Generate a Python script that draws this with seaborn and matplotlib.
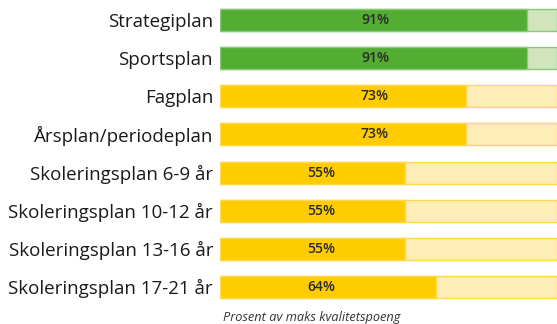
import matplotlib
matplotlib.use("Agg")
import matplotlib.pyplot as plt
import seaborn as sns
import pandas as pd

# Plan categories and their quality score (percent of maximum)
plans = [
    "Strategiplan",
    "Sportsplan",
    "Fagplan",
    "Årsplan/periodeplan",
    "Skoleringsplan 6-9 år",
    "Skoleringsplan 10-12 år",
    "Skoleringsplan 13-16 år",
    "Skoleringsplan 17-21 år",
]
scores = [91, 91, 73, 73, 55, 55, 55, 64]
score_labels = ["91%", "91%", "73%", "73%", "55%", "55%", "55%", "64%"]
groups = ["høy", "høy", "lav", "lav", "lav", "lav", "lav", "lav"]
max_score = [100] * len(plans)

# Where each percentage label sits along the bar
label_pos = [46, 46, 46, 46, 30, 30, 30, 30]

dark = {"høy": "#52ad32", "lav": "#ffcc00"}
light = {"høy": "#d1e4bd", "lav": "#ffedb8"}
edge = {"høy": "#8cc977", "lav": "#ffd84d"}

df = pd.DataFrame({"plan": plans, "score": scores, "maks": max_score, "gruppe": groups})

sns.set_theme(style="white")
plt.rcParams["font.family"] = ["Open Sans", "DejaVu Sans"]

fig = plt.figure(figsize=(5.57, 3.24), dpi=100)
ax = fig.add_axes([220 / 557, 1 - 306 / 324, 1 - 220 / 557, 305 / 324])

sns.barplot(data=df, x="maks", y="plan", hue="plan", legend=False,
            palette=[light[g] for g in groups], width=0.58, ax=ax,
            saturation=1, linewidth=0)
for p, g in zip(ax.patches, groups):
    p.set_edgecolor(edge[g])
    p.set_linewidth(1.0)
n_bg = len(ax.patches)
sns.barplot(data=df, x="score", y="plan", hue="plan", legend=False,
            palette=[dark[g] for g in groups], width=0.58, ax=ax,
            saturation=1, linewidth=0)
for p, g in zip(ax.patches[n_bg:], groups):
    p.set_edgecolor(edge[g])
    p.set_linewidth(1.0)

for i, (lab, xp) in enumerate(zip(score_labels, label_pos)):
    ax.text(xp, i, lab, ha="center", va="center", fontsize=10,
            fontweight="semibold", color="#2b2b2b")

ax.set_xlim(0, 100)
ax.set_ylim(len(plans) - 0.5, -0.5)
ax.set_xlabel("")
ax.set_ylabel("")
ax.set_xticks([])
ax.tick_params(axis="y", length=0, pad=5, labelsize=13.5, labelcolor="#1a1a1a")
for s in ax.spines.values():
    s.set_visible(False)

fig.text(312 / 557, 1 - 318 / 324, "Prosent av maks kvalitetspoeng",
         ha="center", va="center", fontsize=9.2, style="italic", color="#333333")

fig.savefig("out.png", dpi=100, facecolor="white")
